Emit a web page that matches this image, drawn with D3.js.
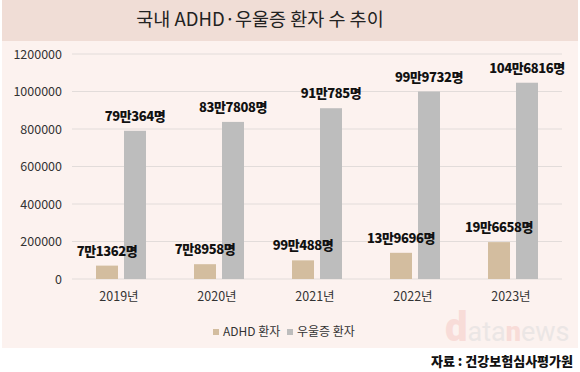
<!DOCTYPE html>
<html>
<head>
<meta charset="utf-8">
<script src="https://cdn.jsdelivr.net/npm/d3@7"></script>
<style>
  body { margin: 0; background: #fff; }
  text { font-family: "Noto Sans CJK KR", "Noto Sans", sans-serif; }
</style>
</head>
<body>
<div id="chart"></div>
<script>
const years = ["2019년", "2020년", "2021년", "2022년", "2023년"];
const seriesNames = ["ADHD 환자", "우울증 환자"];
const adhdValues = [71362, 78958, 99488, 139696, 196658];
const depValues = [790364, 837808, 910785, 999732, 1046816];
const adhdLabels = ["7만1362명", "7만8958명", "99만488명", "13만9696명", "19만6658명"];
const depLabels = ["79만364명", "83만7808명", "91만785명", "99만9732명", "104만6816명"];
const yTicks = [0, 200000, 400000, 600000, 800000, 1000000, 1200000];

const W = 580, H = 372;
const colors = ["#d3bd9f", "#bdbdbd"];

const svg = d3.select("#chart")
    .append("svg")
    .attr("width", W)
    .attr("height", H);

// title band and panel
svg.append("rect").attr("x", 2).attr("y", 0).attr("width", 576).attr("height", 41).attr("fill", "#f0ddd6");
svg.append("rect").attr("x", 2).attr("y", 41).attr("width", 576).attr("height", 307).attr("fill", "#fcf2ef");

svg.append("text")
    .attr("x", 260)
    .attr("y", 26)
    .attr("text-anchor", "middle")
    .style("font-size", "18.5px")
    .style("fill", "#222")
    .text("국내 ADHD·우울증 환자 수 추이");

const data = years.map((y, i) => ({ year: y, values: [adhdValues[i], depValues[i]], labels: [adhdLabels[i], depLabels[i]] }));

const x0 = d3.scaleBand().domain(years).range([72, 562]);
const x1 = d3.scaleBand().domain([0, 1]).range([0, x0.bandwidth()]).paddingInner(0.214).paddingOuter(0.857);
const y = d3.scaleLinear().domain([0, 1200000]).range([279, 54]);

// gridlines
svg.append("g")
    .selectAll("line")
    .data(yTicks)
    .enter()
    .append("line")
    .attr("x1", 72)
    .attr("x2", 562)
    .attr("y1", d => y(d))
    .attr("y2", d => y(d))
    .attr("stroke", "#e2dcda")
    .attr("stroke-width", 1);

// y labels
svg.append("g")
    .selectAll("text")
    .data(yTicks)
    .enter()
    .append("text")
    .attr("x", 62)
    .attr("y", d => y(d) + 4.5)
    .attr("text-anchor", "end")
    .style("font-size", "12.5px")
    .style("fill", "#333")
    .text(d => d);

// x labels
svg.append("g")
    .selectAll("text")
    .data(years)
    .enter()
    .append("text")
    .attr("x", d => x0(d) + x0.bandwidth() / 2 - 2)
    .attr("y", 301)
    .attr("text-anchor", "middle")
    .style("font-size", "12.5px")
    .style("fill", "#333")
    .text(d => d);

const groups = svg.append("g")
    .selectAll("g")
    .data(data)
    .enter()
    .append("g")
    .attr("transform", d => `translate(${x0(d.year)},0)`);

groups.selectAll("rect")
    .data(d => d.values)
    .enter()
    .append("rect")
    .attr("x", (d, i) => x1(i))
    .attr("y", d => y(d))
    .attr("width", x1.bandwidth())
    .attr("height", d => y(0) - y(d))
    .attr("fill", (d, i) => colors[i]);

groups.selectAll("text")
    .data(d => d.values.map((v, i) => ({ v, i, label: d.labels[i] })))
    .enter()
    .append("text")
    .attr("x", d => x1(d.i) + x1.bandwidth() / 2)
    .attr("y", d => y(d.v) - 10)
    .attr("text-anchor", "middle")
    .style("font-size", "13px")
    .style("font-weight", "900")
    .style("letter-spacing", "-0.4px")
    .style("fill", "#111")
    .text(d => d.label);

// legend
const legend = svg.append("g").attr("transform", "translate(213,332)");
const legendX = [0, 74];
seriesNames.forEach((name, i) => {
    legend.append("rect")
        .attr("x", legendX[i])
        .attr("y", -3)
        .attr("width", 6)
        .attr("height", 6)
        .attr("fill", colors[i]);
    legend.append("text")
        .attr("x", legendX[i] + 10)
        .attr("y", 4)
        .style("font-size", "12px")
        .style("fill", "#333")
        .text(name);
});

// watermark
const wm = svg.append("text").attr("x", 445).attr("y", 341).style("font-family", "Roboto, sans-serif");
wm.append("tspan").text("d").style("font-size", "40px").style("font-weight", "900").style("fill", "#f8dcd8");
wm.append("tspan").text("ata").style("font-size", "27px").style("fill", "#ebe6e5");
wm.append("tspan").text("n").style("font-size", "27px").style("font-weight", "900").style("fill", "#f8dcd8");
wm.append("tspan").text("ews").style("font-size", "27px").style("fill", "#ebe6e5");

// source
svg.append("text")
    .attr("x", 573)
    .attr("y", 366)
    .attr("text-anchor", "end")
    .style("font-size", "13px")
    .style("font-weight", "900")
    .style("fill", "#111")
    .text("자료 : 건강보험심사평가원");
</script>
</body>
</html>
